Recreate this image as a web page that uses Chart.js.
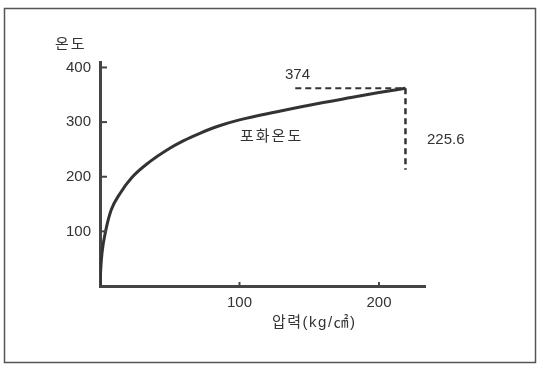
<!DOCTYPE html>
<html><head><meta charset="utf-8">
<script src="https://cdn.jsdelivr.net/npm/chart.js@4/dist/chart.umd.min.js"></script>
<style>html,body{margin:0;padding:0;background:#fff;}#wrap{width:548px;height:371px;position:relative;}</style>
</head><body><div id="wrap"><canvas id="c" width="548" height="371"></canvas></div>
<script>
// Data
const pressure = [0, 0.5, 1.5, 4, 8, 14, 23, 36, 48, 60, 72, 84, 100, 127, 150, 180, 200, 219];
const temperature = [0, 30, 62, 100, 139, 168, 199, 228, 249, 266, 280, 292, 304, 319, 331, 345, 354, 362];
const critP = 219, critT = 362, dashFromP = 140, dashToT = 213;
const critLabels = ['374', '225.6'];
const curveLabel = '포화온도';
const yTitle = '온도';
const xTitle = '압력(kg/㎠)';
const xTicks = [100, 200];
const yTicks = [100, 200, 300, 400];

const FONT = '"Liberation Sans", "Noto Sans CJK KR", sans-serif';
const INK = '#333';

const deco = {
  id: 'deco',
  beforeDraw(chart) {
    const ctx = chart.ctx;
    ctx.save();
    ctx.fillStyle = '#fff';
    ctx.fillRect(0, 0, chart.width, chart.height);
    ctx.strokeStyle = '#555';
    ctx.lineWidth = 1.5;
    ctx.strokeRect(4.5, 8.5, 531, 354);
    ctx.restore();
  },
  afterDraw(chart) {
    const ctx = chart.ctx, x = chart.scales.x, y = chart.scales.y;
    ctx.save();
    ctx.strokeStyle = '#444';
    ctx.lineWidth = 2;
    yTicks.forEach(v => {
      const py = y.getPixelForValue(v);
      ctx.beginPath(); ctx.moveTo(x.left, py); ctx.lineTo(x.left + 7, py); ctx.stroke();
    });
    xTicks.forEach(v => {
      const px = x.getPixelForValue(v);
      ctx.beginPath(); ctx.moveTo(px, y.bottom); ctx.lineTo(px, y.bottom - 4); ctx.stroke();
    });
    ctx.fillStyle = INK;
    ctx.textBaseline = 'middle';
    ctx.textAlign = 'left';
    ctx.font = '15px ' + FONT;
    ctx.fillText(critLabels[0], 285, 75);
    ctx.fillText(critLabels[1], 427, 140);
    ctx.letterSpacing = '2px';
    ctx.fillText(yTitle, 55, 45);
    ctx.fillText(curveLabel, 240, 137);
    ctx.letterSpacing = '1.5px';
    ctx.fillText(xTitle, 272, 323);
    ctx.restore();
  }
};

new Chart(document.getElementById('c'), {
  type: 'line',
  data: {
    datasets: [
      { data: pressure.map((p, i) => ({x: p, y: temperature[i]})), borderColor: '#333', borderWidth: 3,
        pointRadius: 0, cubicInterpolationMode: 'monotone', fill: false },
      { data: [{x: dashFromP, y: critT}, {x: critP, y: critT}], borderColor: '#333', borderWidth: 2,
        borderDash: [6, 4], pointRadius: 0, tension: 0 },
      { data: [{x: critP, y: critT}, {x: critP, y: dashToT}], borderColor: '#333', borderWidth: 2.5,
        borderDash: [6, 4], pointRadius: 0, tension: 0 }
    ]
  },
  options: {
    responsive: false, animation: false, devicePixelRatio: 1,
    layout: { padding: { left: 0, right: 123, top: 62, bottom: 35 } },
    plugins: { legend: { display: false }, tooltip: { enabled: false } },
    scales: {
      x: {
        type: 'linear', min: 0, max: 233,
        afterBuildTicks: a => { a.ticks = xTicks.map(v => ({value: v})); },
        afterFit: a => { a.height = 50; },
        grid: { display: false, drawTicks: false },
        border: { display: true, color: '#444', width: 3 },
        ticks: { color: INK, font: { size: 15, family: FONT }, padding: 8 },
        title: { display: false, text: xTitle }
      },
      y: {
        type: 'linear', min: 0, max: 410,
        afterBuildTicks: a => { a.ticks = yTicks.map(v => ({value: v})); },
        afterFit: a => { a.width = 100; },
        grid: { display: false, drawTicks: false },
        border: { display: true, color: '#444', width: 3 },
        ticks: { color: INK, font: { size: 15, family: FONT }, padding: 9 }
      }
    }
  },
  plugins: [deco]
});
</script></body></html>
